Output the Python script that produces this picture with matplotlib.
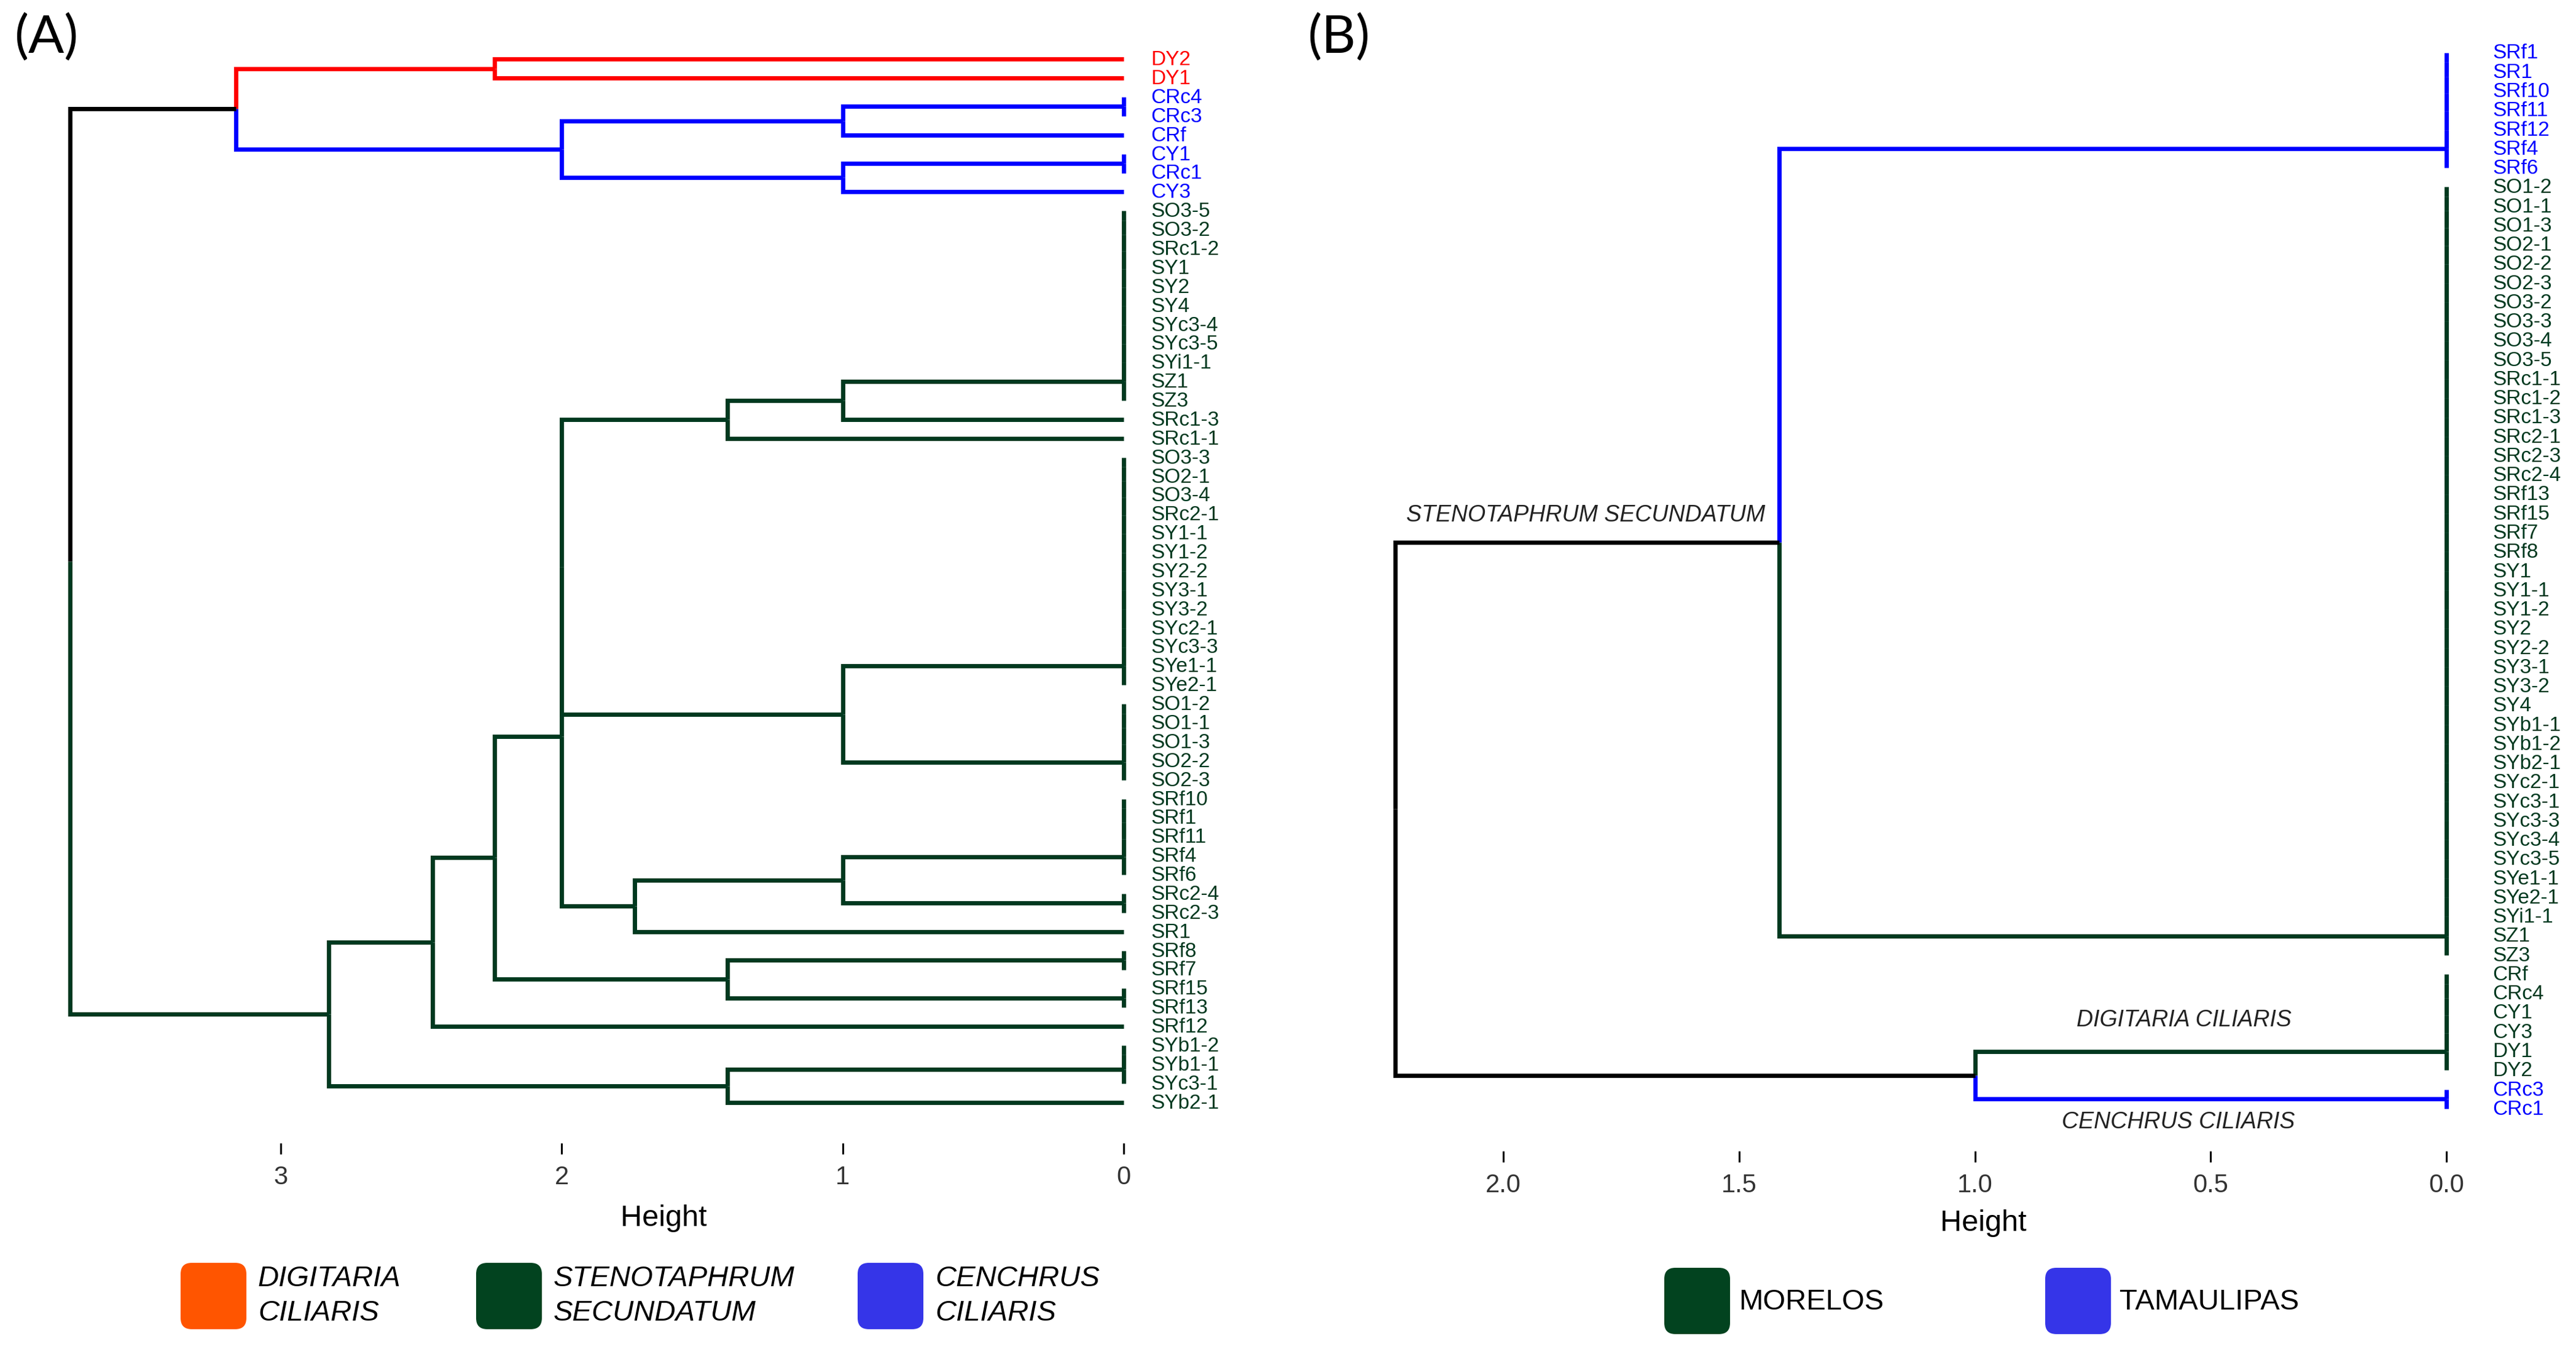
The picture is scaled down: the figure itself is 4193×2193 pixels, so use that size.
import matplotlib
matplotlib.use("Agg")
import matplotlib.pyplot as plt
from matplotlib.patches import FancyBboxPatch

plt.rcParams['font.family'] = ['Liberation Sans', 'DejaVu Sans']

W, H = 4193, 2193
DPI = 100

RED = "#FF0000"
BLUE = "#0000FF"
GREEN = "#00391F"

# tree notation: (height, left, right); a list = leaves joined at height 0
# panel A - clustering by species
a_tree = (3.75,
          (3.16,
           (2.24, "DY2", "DY1"),
           (2.0,
            (1.0, ["CRc4", "CRc3"], "CRf"),
            (1.0, ["CY1", "CRc1"], "CY3"))),
          (2.83,
           (2.46,
            (2.24,
             (2.0,
              (2.0,
               (1.41,
                (1.0, ["SO3-5", "SO3-2", "SRc1-2", "SY1", "SY2", "SY4", "SYc3-4",
                       "SYc3-5", "SYi1-1", "SZ1", "SZ3"], "SRc1-3"),
                "SRc1-1"),
               (1.0, ["SO3-3", "SO2-1", "SO3-4", "SRc2-1", "SY1-1", "SY1-2", "SY2-2",
                      "SY3-1", "SY3-2", "SYc2-1", "SYc3-3", "SYe1-1", "SYe2-1"],
                ["SO1-2", "SO1-1", "SO1-3", "SO2-2", "SO2-3"])),
              (1.74,
               (1.0, ["SRf10", "SRf1", "SRf11", "SRf4", "SRf6"], ["SRc2-4", "SRc2-3"]),
               "SR1")),
             (1.41, ["SRf8", "SRf7"], ["SRf15", "SRf13"])),
            "SRf12"),
           (1.41, ["SYb1-2", "SYb1-1", "SYc3-1"], "SYb2-1")))
a_red = ["DY2", "DY1"]
a_blue = ["CRc4", "CRc3", "CRf", "CY1", "CRc1", "CY3"]
a_ticks = [3, 2, 1, 0]
a_ticklabels = ["3", "2", "1", "0"]

# panel B - clustering by region
b_tree = (2.23,
          (1.415,
           ["SRf1", "SR1", "SRf10", "SRf11", "SRf12", "SRf4", "SRf6"],
           ["SO1-2", "SO1-1", "SO1-3", "SO2-1", "SO2-2", "SO2-3", "SO3-2", "SO3-3",
            "SO3-4", "SO3-5", "SRc1-1", "SRc1-2", "SRc1-3", "SRc2-1", "SRc2-3",
            "SRc2-4", "SRf13", "SRf15", "SRf7", "SRf8", "SY1", "SY1-1", "SY1-2",
            "SY2", "SY2-2", "SY3-1", "SY3-2", "SY4", "SYb1-1", "SYb1-2", "SYb2-1",
            "SYc2-1", "SYc3-1", "SYc3-3", "SYc3-4", "SYc3-5", "SYe1-1", "SYe2-1",
            "SYi1-1", "SZ1", "SZ3"]),
          (1.0,
           ["CRf", "CRc4", "CY1", "CY3", "DY1", "DY2"],
           ["CRc3", "CRc1"]))
b_blue = ["SRf1", "SR1", "SRf10", "SRf11", "SRf12", "SRf4", "SRf6", "CRc3", "CRc1"]
b_ticks = [2.0, 1.5, 1.0, 0.5, 0.0]
b_ticklabels = ["2.0", "1.5", "1.0", "0.5", "0.0"]
b_clades = [("STENOTAPHRUM SECUNDATUM", 1.826, 24.1),
            ("DIGITARIA CILIARIS", 0.557, 50.4),
            ("CENCHRUS CILIARIS", 0.568, 55.7)]

a_legend = [("DIGITARIA\nCILIARIS", "#FF5500"),
            ("STENOTAPHRUM\nSECUNDATUM", "#02431F"),
            ("CENCHRUS\nCILIARIS", "#3535E8")]
b_legend = [("MORELOS", "#02431F"), ("TAMAULIPAS", "#3535E8")]


def binarize(node):
    if isinstance(node, str):
        return node
    if isinstance(node, list):
        t = node[0]
        for name in node[1:]:
            t = (0.0, t, name)
        return t
    h, l, r = node
    return (h, binarize(l), binarize(r))


def leaf_order(node, out):
    if isinstance(node, str):
        out.append(node)
    else:
        leaf_order(node[1], out)
        leaf_order(node[2], out)
    return out


def draw(ax, node, ypos, colors, lw):
    if isinstance(node, str):
        return ypos[node], 0.0, colors[node]
    h = node[0]
    kids = [draw(ax, k, ypos, colors, lw) for k in node[1:]]
    y = (kids[0][0] + kids[1][0]) / 2
    for cy, ch, cc in kids:
        ax.plot([h, h, ch], [y, cy, cy], color=cc, lw=lw,
                solid_capstyle="butt", solid_joinstyle="miter", clip_on=False)
    c = kids[0][2] if kids[0][2] == kids[1][2] else "black"
    return y, h, c


def panel_axes(fig, zero_px, unit_px, first_px, step_px, box):
    left, right, top, bottom = box
    ax = fig.add_axes([left / W, 1 - bottom / H, (right - left) / W, (bottom - top) / H])
    ax.set_xlim((zero_px - left) / unit_px, (zero_px - right) / unit_px)
    ax.set_ylim((bottom - first_px) / step_px, (top - first_px) / step_px)
    for s in ax.spines.values():
        s.set_visible(False)
    ax.tick_params(axis="y", left=False, labelleft=False)
    ax.tick_params(axis="x", direction="out", length=13, width=2.2, color="black",
                   labelsize=30, labelcolor="#333333", pad=13)
    return ax


def dendro(ax, tree, colors, label_off):
    t = binarize(tree)
    leaves = leaf_order(t, [])
    ypos = {name: i for i, name in enumerate(leaves)}
    draw(ax, t, ypos, colors, 5)
    for name in leaves:
        ax.annotate(name, xy=(0, ypos[name]), xytext=(label_off, -1),
                    textcoords="offset points", ha="left", va="center",
                    fontsize=24, color=colors[name], annotation_clip=False)


fig = plt.figure(figsize=(W / DPI, H / DPI), dpi=DPI)
fig.patch.set_facecolor("white")

# panel A
axa = panel_axes(fig, 1829, 457.3, 96.3, 30.88, (53, 1872, 53, 1861))
cols_a = {}
for n in leaf_order(binarize(a_tree), []):
    cols_a[n] = RED if n in a_red else BLUE if n in a_blue else GREEN
dendro(axa, a_tree, cols_a, 32)
axa.set_xticks(a_ticks)
axa.set_xticklabels(a_ticklabels)

# panel B
axb = panel_axes(fig, 3982, 767.4, 85.6, 31.26, (2219, 4011, 53, 1874))
cols_b = {}
for n in leaf_order(binarize(b_tree), []):
    cols_b[n] = BLUE if n in b_blue else GREEN
dendro(axb, b_tree, cols_b, 54)
axb.set_xticks(b_ticks)
axb.set_xticklabels(b_ticklabels)
for txt, x, y in b_clades:
    axb.text(x, y, txt, ha="center", va="center", fontsize=27, style="italic",
             color="#222222")

# overlay in pixel units for titles and legends
ov = fig.add_axes([0, 0, 1, 1])
ov.set_xlim(0, W)
ov.set_ylim(H, 0)
ov.axis("off")

ov.text(75, 61, "(A)", fontsize=62, ha="center", va="center", family=["Lato", "DejaVu Sans"])
ov.text(2179, 61, "(B)", fontsize=62, ha="center", va="center", family=["Lato", "DejaVu Sans"])
ov.text(1080, 1984, "Height", fontsize=35, ha="center", va="center")
ov.text(3228, 1992, "Height", fontsize=35, ha="center", va="center")

a_box_x = [294, 775, 1396]
for (lab, col), x in zip(a_legend, a_box_x):
    ov.add_patch(FancyBboxPatch((x, 2056), 107, 108,
                                boxstyle="round,pad=0,rounding_size=18",
                                fc=col, ec="none"))
    ov.text(x + 126, 2110, lab, fontsize=34, style="italic", ha="left",
            va="center", linespacing=1.35)

b_box_x = [2709, 3329]
for (lab, col), x in zip(b_legend, b_box_x):
    ov.add_patch(FancyBboxPatch((x, 2064), 107, 108,
                                boxstyle="round,pad=0,rounding_size=18",
                                fc=col, ec="none"))
    ov.text(x + 121, 2120, lab, fontsize=34, ha="left", va="center")

fig.savefig("out.png", dpi=DPI, facecolor="white")
